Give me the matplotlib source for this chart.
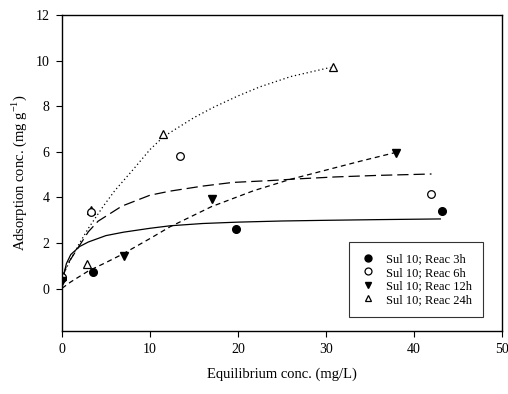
import matplotlib
matplotlib.use("Agg")
import matplotlib.pyplot as plt

plt.rcParams['font.family'] = ['Liberation Serif', 'DejaVu Serif']
plt.rcParams['mathtext.fontset'] = 'custom'
plt.rcParams['mathtext.rm'] = 'Liberation Serif'

# measured points
x3 = [0, 3.5, 19.8, 43.2]
y3 = [0.45, 0.75, 2.6, 3.4]
x6 = [0, 3.3, 13.4, 41.9]
y6 = [0.5, 3.35, 5.8, 4.15]
x12 = [0, 7.1, 17.0, 38.0]
y12 = [0.35, 1.42, 3.92, 5.95]
x24 = [0, 2.9, 3.25, 11.5, 30.8]
y24 = [0.55, 1.1, 3.45, 6.8, 9.72]

# fitted curves
fx3 = [0.1, 0.5, 1, 2, 3, 5, 7, 10, 12.3, 16, 20, 25, 30, 36, 43]
fy3 = [0.45, 1.1, 1.5, 1.85, 2.05, 2.33, 2.48, 2.65, 2.76, 2.86, 2.92, 2.97, 3.0, 3.03, 3.06]
fx6 = [0.1, 0.5, 1.5, 3, 4.1, 6.8, 10, 12.3, 16, 19.4, 23.6, 27, 31, 36, 42]
fy6 = [0.5, 1.0, 1.6, 2.5, 2.96, 3.62, 4.1, 4.28, 4.5, 4.66, 4.74, 4.82, 4.9, 4.97, 5.03]
fx12 = [0, 1, 3, 5, 6.8, 10, 12.3, 17, 21.8, 26, 30, 34, 38]
fy12 = [0.02, 0.3, 0.78, 1.15, 1.5, 2.2, 2.72, 3.6, 4.3, 4.8, 5.2, 5.6, 5.98]
fx24 = [0, 1, 2, 3, 4.7, 6, 8.1, 10, 11.5, 12.3, 15, 17.2, 20, 22.5, 26, 30.5]
fy24 = [0.5, 1.3, 2.0, 2.65, 3.62, 4.3, 5.23, 6.1, 6.65, 6.85, 7.5, 7.95, 8.45, 8.85, 9.3, 9.7]

labels = ['Sul 10; Reac 3h', 'Sul 10; Reac 6h', 'Sul 10; Reac 12h', 'Sul 10; Reac 24h']

fig = plt.figure(figsize=(5.08, 3.94), dpi=100)
ax = fig.add_axes([0.122, 0.160, 0.866, 0.802])

lw = 0.9
ax.plot(fx3, fy3, '-', color='black', lw=lw)
ax.plot(fx6, fy6, color='black', lw=lw, dashes=(9, 4))
ax.plot(fx12, fy12, color='black', lw=lw, dashes=(4, 3))
ax.plot(fx24, fy24, color='black', lw=lw, dashes=(1, 2.2))

ms = 5.5
h24, = ax.plot(x24, y24, '^', ms=ms + 0.5, mfc='white', mec='black', mew=0.9, ls='none', label=labels[3])
h3, = ax.plot(x3, y3, 'o', ms=ms, mfc='black', mec='black', ls='none', label=labels[0])
h6, = ax.plot(x6, y6, 'o', ms=ms, mfc='white', mec='black', mew=0.9, ls='none', label=labels[1])
h12, = ax.plot(x12, y12, 'v', ms=ms + 0.5, mfc='black', mec='black', ls='none', label=labels[2])

ax.set_xlim(0, 50)
ax.set_ylim(-1.85, 12)
ax.set_xticks([0, 10, 20, 30, 40, 50])
ax.set_yticks([0, 2, 4, 6, 8, 10, 12])
ax.tick_params(direction='out', length=4, width=0.8, labelsize=10, pad=5,
               top=False, right=False)
for s in ax.spines.values():
    s.set_linewidth(1.0)

ax.set_xlabel('Equilibrium conc. (mg/L)', fontsize=10.5, labelpad=8)
ax.set_ylabel('Adsorption conc. (mg g$^{-1}$)', fontsize=10.5, labelpad=5)

leg = ax.legend(handles=[h3, h6, h12, h24], loc='lower right',
                bbox_to_anchor=(0.957, 0.044), fontsize=9, frameon=True,
                fancybox=False, edgecolor='black', handlelength=1.2,
                handletextpad=0.8, borderpad=0.9, labelspacing=0.12,
                borderaxespad=0)
leg.get_frame().set_linewidth(0.8)
for h in leg.legend_handles:
    h.set_markersize(5)

fig.savefig('out.png', dpi=100)
